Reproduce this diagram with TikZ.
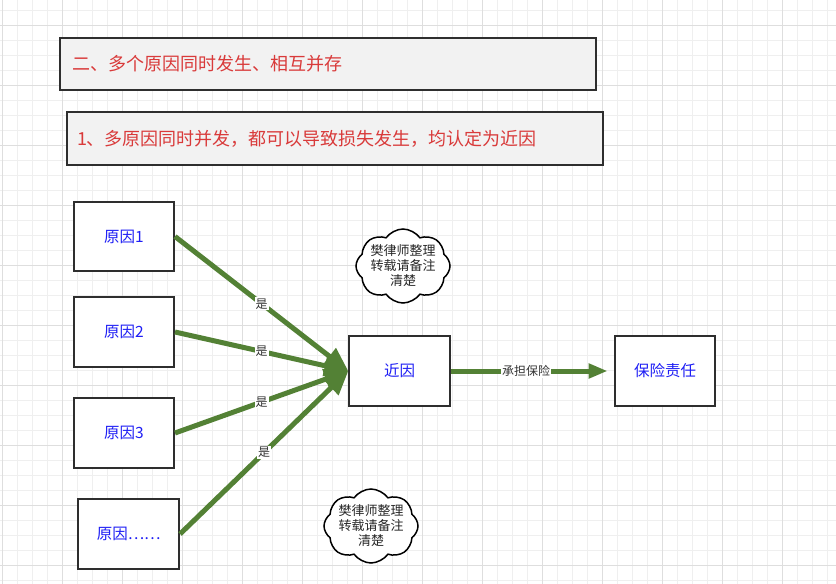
\documentclass[tikz,border=0pt]{standalone}
\usepackage{fontspec}
\setmainfont{Noto Sans CJK SC}
\usetikzlibrary{arrows.meta,shapes.symbols}
\definecolor{gridminor}{HTML}{EFEFEF}
\definecolor{gridmajor}{HTML}{DEDEDE}
\definecolor{boxline}{HTML}{2E2E2E}
\definecolor{titlefill}{HTML}{F2F2F2}
\definecolor{titlered}{HTML}{D93A3A}
\definecolor{causeblue}{HTML}{1E1EF5}
\definecolor{arrowgreen}{HTML}{538135}
\definecolor{labelgray}{HTML}{333333}
\tikzset{
  titlebox/.style={draw=boxline, line width=2pt, fill=titlefill, minimum height=52pt,
    align=left, text=titlered, font=\fontsize{18}{22}\selectfont},
  causebox/.style={draw=boxline, line width=2pt, fill=white, minimum width=100pt,
    minimum height=70pt, text=causeblue, font=\fontsize{15.5}{18}\selectfont, inner sep=0pt},
  greenline/.style={draw=arrowgreen, line width=5pt},
  bigtip/.style={-{Triangle[length=24pt,width=20pt]}},
  yeslabel/.style={fill=white, inner sep=1pt, text=labelgray, font=\fontsize{12}{14}\selectfont},
  cloudshape/.style={cloud, cloud puffs=8, cloud puff arc=110, aspect=1.35, draw=black,
    line width=1.5pt, fill=white, minimum width=94pt, minimum height=74pt, inner sep=0pt},
  notetext/.style={inner sep=0pt, align=center, text=black!85, font=\fontsize{13}{15}\selectfont}
}
\begin{document}
\begin{tikzpicture}[x=1pt,y=-1pt]
\useasboundingbox (0,0) rectangle (836,584);
\fill[white] (0,0) rectangle (836,584);
% grid
\foreach \i in {0,...,55} {\draw[gridminor, line width=1pt] ({2.3+15*\i},0) -- ({2.3+15*\i},584);}
\foreach \j in {0,...,38} {\draw[gridminor, line width=1pt] (0,{10+15*\j}) -- (836,{10+15*\j});}
\foreach \i in {0,...,13} {\draw[gridmajor, line width=1pt] ({2.3+60*\i},0) -- ({2.3+60*\i},584);}
\foreach \j in {0,...,9} {\draw[gridmajor, line width=1pt] (0,{25+60*\j}) -- (836,{25+60*\j});}
% titles
\node[titlebox, text width=512pt, inner xsep=12pt] (t1) at (328,64) {二、多个原因同时发生、相互并存};
\node[titlebox, text width=516pt, inner xsep=10pt, minimum height=53pt] (t2) at (335,138.5) {1、多原因同时并发，都可以导致损失发生，均认定为近因};
% boxes
\node[causebox, minimum height=69pt] (r1) at (124,236.5) {原因1};
\node[causebox] (r2) at (124,332) {原因2};
\node[causebox] (r3) at (124,433) {原因3};
\node[causebox, minimum width=100.7pt] (r4) at (128.7,534) {原因……};
\node[causebox, minimum width=100.7pt] (jy) at (399.7,371) {近因};
\node[causebox, minimum width=100.7pt] (bx) at (665,371) {保险责任};
% connectors
\draw[greenline, bigtip] (r1.east) -- (jy.west) node[pos=0.5, yeslabel] {是};
\draw[greenline, bigtip] (r2.east) -- (jy.west) node[pos=0.5, yeslabel] {是};
\draw[greenline, bigtip] (r3.east) -- (jy.west) node[pos=0.5, yeslabel] {是};
\draw[greenline, bigtip] (r4.east) -- (jy.west) node[pos=0.5, yeslabel] {是};
\draw[greenline, -{Triangle[length=19pt,width=14pt]}] (jy.east) -- ([xshift=-6pt]bx.west)
  node[pos=0.48, yeslabel] {承担保险};
% clouds
\node[cloudshape] (c1) at (403,266) {};
\node[notetext] (c1t) at (c1.center) {樊律师整理\\转载请备注\\清楚};
\node[cloudshape] (c2) at (371,526) {};
\node[notetext] (c2t) at (c2.center) {樊律师整理\\转载请备注\\清楚};
\end{tikzpicture}
\end{document}
